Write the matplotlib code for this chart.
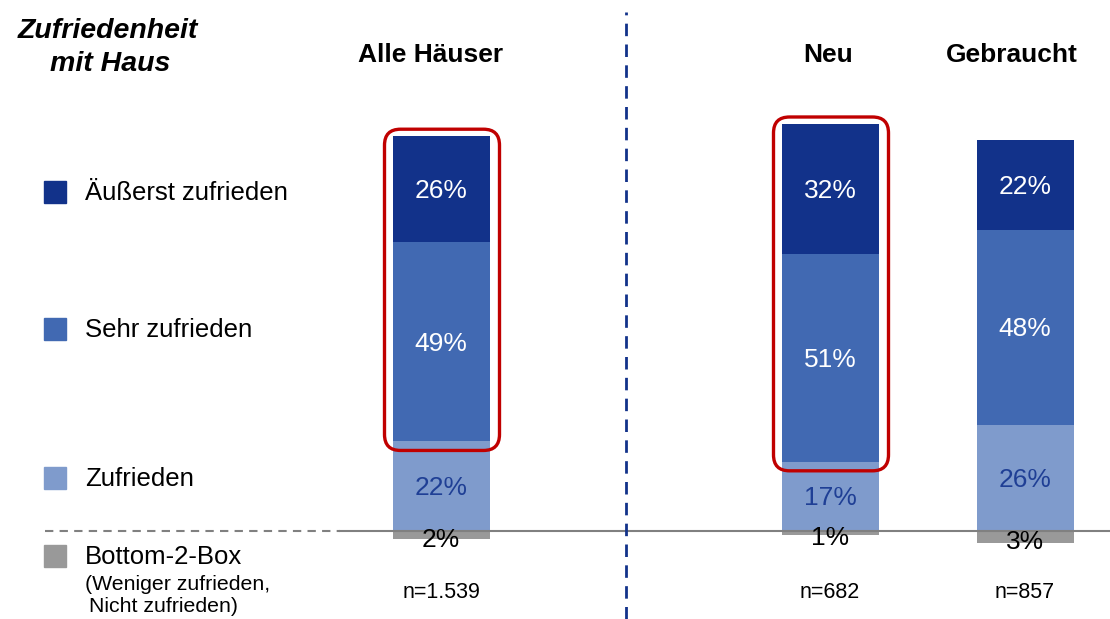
import matplotlib
matplotlib.use("Agg")
import matplotlib.pyplot as plt
from matplotlib.patches import FancyBboxPatch, Rectangle

plt.rcParams['font.family'] = ['Liberation Sans', 'DejaVu Sans']

# data
groups = ['Alle Häuser', 'Neu', 'Gebraucht']
n_labels = ['n=1.539', 'n=682', 'n=857']
aeusserst = [26, 32, 22]
sehr = [49, 51, 48]
zufrieden = [22, 17, 26]
bottom2 = [2, 1, 3]
legend_labels = ['Äußerst zufrieden', 'Sehr zufrieden', 'Zufrieden', 'Bottom-2-Box']
highlight = [True, True, False]

# style
c_dark = '#12328a'
c_mid = '#4169b2'
c_light = '#7f9bcc'
c_gray = '#999999'
c_red = '#c00000'

W, H = 1110, 619
PX = 4.07          # pixels per percent
ZERO = 531         # pixel row of baseline
xpos = [441, 830, 1025]
bw = 97
FS = 19
dy = 2 / PX        # small downward nudge for labels

fig = plt.figure(figsize=(W / 100, H / 100), dpi=100)
ax = fig.add_axes([0, 0, 1, 1])
ax.set_xlim(0, W)
ax.set_ylim(-(H - ZERO) / PX, ZERO / PX)
ax.axis('off')

ax.bar(xpos, zufrieden, bw, color=c_light, zorder=2)
ax.bar(xpos, sehr, bw, bottom=zufrieden, color=c_mid, zorder=2)
b2 = [z + s for z, s in zip(zufrieden, sehr)]
ax.bar(xpos, aeusserst, bw, bottom=b2, color=c_dark, zorder=2)
ax.bar(xpos, [-v for v in bottom2], bw, color=c_gray, zorder=2)

for i, x in enumerate(xpos):
    ax.text(x, zufrieden[i] / 2 - dy, f'{zufrieden[i]}%', ha='center', va='center',
            color='#1f3f95', fontsize=FS, zorder=4)
    ax.text(x, zufrieden[i] + sehr[i] / 2 - dy, f'{sehr[i]}%', ha='center', va='center',
            color='white', fontsize=FS, zorder=4)
    ax.text(x, b2[i] + aeusserst[i] / 2 - dy, f'{aeusserst[i]}%', ha='center', va='center',
            color='white', fontsize=FS, zorder=4)
    ax.text(x, -bottom2[i] / 2 - 0.7 - dy, f'{bottom2[i]}%', ha='center', va='center',
            color='black', fontsize=FS, zorder=4)
    if highlight[i]:
        y0 = zufrieden[i] - 9 / PX
        y1 = b2[i] + aeusserst[i] + 7 / PX
        box = FancyBboxPatch((x - bw / 2 - 8, y0), bw + 18, y1 - y0,
                             boxstyle='round,pad=0,rounding_size=16',
                             mutation_aspect=1 / PX, fill=False,
                             edgecolor=c_red, linewidth=2.4, zorder=5)
        ax.add_patch(box)

# baseline
ax.plot([340, W], [0, 0], color='#808080', lw=1.5, zorder=3)
ax.plot([45, 340], [0, 0], color='#808080', lw=1.5, ls=(0, (4, 3)), zorder=3)
# divider
ax.plot([626, 626], [-(H - ZERO) / PX, (ZERO - 12) / PX], color=c_dark, lw=2,
        ls=(0, (4.5, 3)), zorder=3)

def fy(py):
    return 1 - py / H

# title
fig.text(108 / W, fy(31), 'Zufriedenheit', ha='center', va='center',
         fontsize=20.5, fontweight='bold', fontstyle='italic')
fig.text(110 / W, fy(64), 'mit Haus', ha='center', va='center',
         fontsize=20.5, fontweight='bold', fontstyle='italic')

# column headers
hx = [431, 828, 1012]
for x, g in zip(hx, groups):
    fig.text(x / W, fy(55), g, ha='center', va='center', fontsize=FS, fontweight='bold')
for x, n in zip(xpos, n_labels):
    fig.text(x / W, fy(593), n, ha='center', va='center', fontsize=15.5)

# legend
leg_y = [192, 329, 478, 556]
leg_c = [c_dark, c_mid, c_light, c_gray]
for y, c, lab in zip(leg_y, leg_c, legend_labels):
    fig.patches.append(Rectangle((44 / W, fy(y + 11)), 22 / W, 22 / H,
                                 transform=fig.transFigure, color=c))
    fig.text(85 / W, fy(y + 1), lab, ha='left', va='center', fontsize=18.5)
fig.text(85 / W, fy(584), '(Weniger zufrieden,', ha='left', va='center', fontsize=15.3)
fig.text(89 / W, fy(607), 'Nicht zufrieden)', ha='left', va='center', fontsize=15.3)

fig.savefig('out.png', dpi=100)
